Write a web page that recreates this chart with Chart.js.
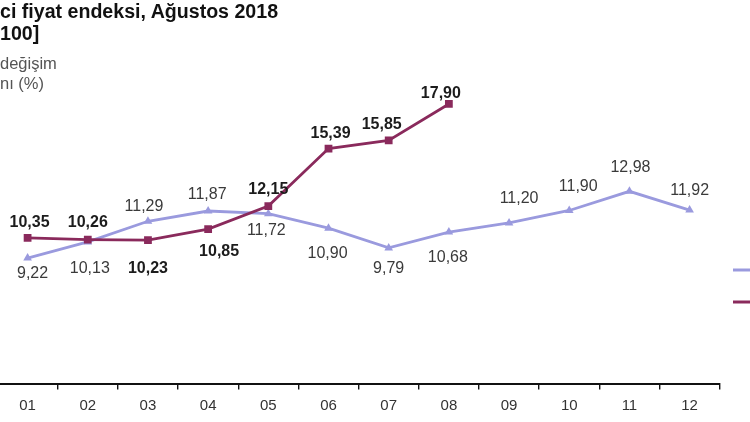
<!DOCTYPE html>
<html><head><meta charset="utf-8">
<script src="https://cdn.jsdelivr.net/npm/chart.js@4.4.0/dist/chart.umd.min.js"></script>
<style>
html,body{margin:0;padding:0;background:#fff;width:750px;height:422px;overflow:hidden;position:relative;font-family:"Liberation Sans",Arial,sans-serif;}
#wrap{position:absolute;left:-7.7px;top:0;width:765px;height:422px;}
.t{position:absolute;left:0;white-space:nowrap;}
</style></head><body>
<div id="wrap"><canvas id="c"></canvas></div>
<div class="t" style="top:2px;font:bold 19.6px/19.6px 'Liberation Sans',Arial;color:#111">ci fiyat endeksi, Ağustos 2018</div>
<div class="t" style="top:24px;font:bold 19.6px/19.6px 'Liberation Sans',Arial;color:#111">100]</div>
<div class="t" style="top:55px;font:16.5px/16.5px 'Liberation Sans',Arial;color:#555">değişim</div>
<div class="t" style="top:75px;font:16.5px/16.5px 'Liberation Sans',Arial;color:#555">nı (%)</div>
<script>
const months = ['01','02','03','04','05','06','07','08','09','10','11','12'];
const series2017 = [9.22,10.13,11.29,11.87,11.72,10.90,9.79,10.68,11.20,11.90,12.98,11.92];
const series2018 = [10.35,10.26,10.23,10.85,12.15,15.39,15.85,17.90,null,null,null,null];
const seriesNames = ['2017','2018'];

const colorLight = '#9a9ade';
const colorDark = '#8a2a5c';

// label offsets (dx, dy) from each point, layout only
const offLight = [[5,16],[2,27],[-4,-15],[-1,-16],[-2,17],[-1,25],[0,21],[-1,25],[10,-24],[9,-24],[1,-24],[0,-20]];
const offDark = [[2,-15],[0,-17],[0,28],[11,22],[0,-16],[2,-15],[-7,-16],[-8,-10]];

const valueLabels = {
  id:'valueLabels',
  afterDatasetsDraw(chart){
    const ctx = chart.ctx;
    chart.data.datasets.forEach((ds,i)=>{
      const meta = chart.getDatasetMeta(i);
      const off = ds._off;
      ctx.save();
      ctx.font = (ds._bold ? 'bold ' : '') + '16px "Liberation Sans", Arial';
      ctx.fillStyle = ds._bold ? '#1c1c1c' : '#3a3a3a';
      ctx.textAlign = 'center';
      ctx.textBaseline = 'middle';
      meta.data.forEach((pt,j)=>{
        const v = ds.data[j];
        if (v == null) return;
        ctx.fillText(v.toFixed(2).replace('.',','), pt.x + off[j][0], pt.y + off[j][1]);
      });
      ctx.restore();
    });
  }
};

const legendStubs = {
  id:'legendStubs',
  afterDraw(chart){
    const ctx = chart.ctx;
    const ys = [270, 302];
    [colorLight, colorDark].forEach((c,i)=>{
      ctx.save();
      ctx.strokeStyle = c;
      ctx.lineWidth = 3;
      ctx.beginPath();
      ctx.moveTo(741, ys[i]);
      ctx.lineTo(765, ys[i]);
      ctx.stroke();
      ctx.restore();
    });
  }
};

new Chart(document.getElementById('c'), {
  type:'line',
  data:{
    labels: months,
    datasets:[
      {label:seriesNames[1], data:series2018, borderColor:colorDark, backgroundColor:colorDark,
       borderWidth:2.8, pointStyle:'rect', pointRadius:5.5, pointBorderWidth:0, tension:0, order:0,
       _off:offDark, _bold:true},
      {label:seriesNames[0], data:series2017, borderColor:colorLight, backgroundColor:colorLight,
       borderWidth:2.8, pointStyle:'triangle', pointRadius:5, pointBorderWidth:0, tension:0, order:1,
       _off:offLight, _bold:false}
    ]
  },
  options:{
    responsive:true, maintainAspectRatio:false, animation:false,
    layout:{padding:{top:66.7, right:37.3, left:0, bottom:0}},
    plugins:{legend:{display:false}, tooltip:{enabled:false}},
    scales:{
      x:{
        offset:true,
        grid:{display:true, offset:true, drawOnChartArea:false, drawTicks:true, tickLength:5, color:'#111', lineWidth:1.4},
        border:{display:true, color:'#111', width:2},
        ticks:{color:'#333', font:{family:'"Liberation Sans", Arial', size:15}, padding:7, maxRotation:0, autoSkip:false},
        afterFit(scale){ scale.height = 37.6; }
      },
      y:{display:false, min:2.1, max:20}
    }
  },
  plugins:[valueLabels, legendStubs]
});
</script>
</body></html>
